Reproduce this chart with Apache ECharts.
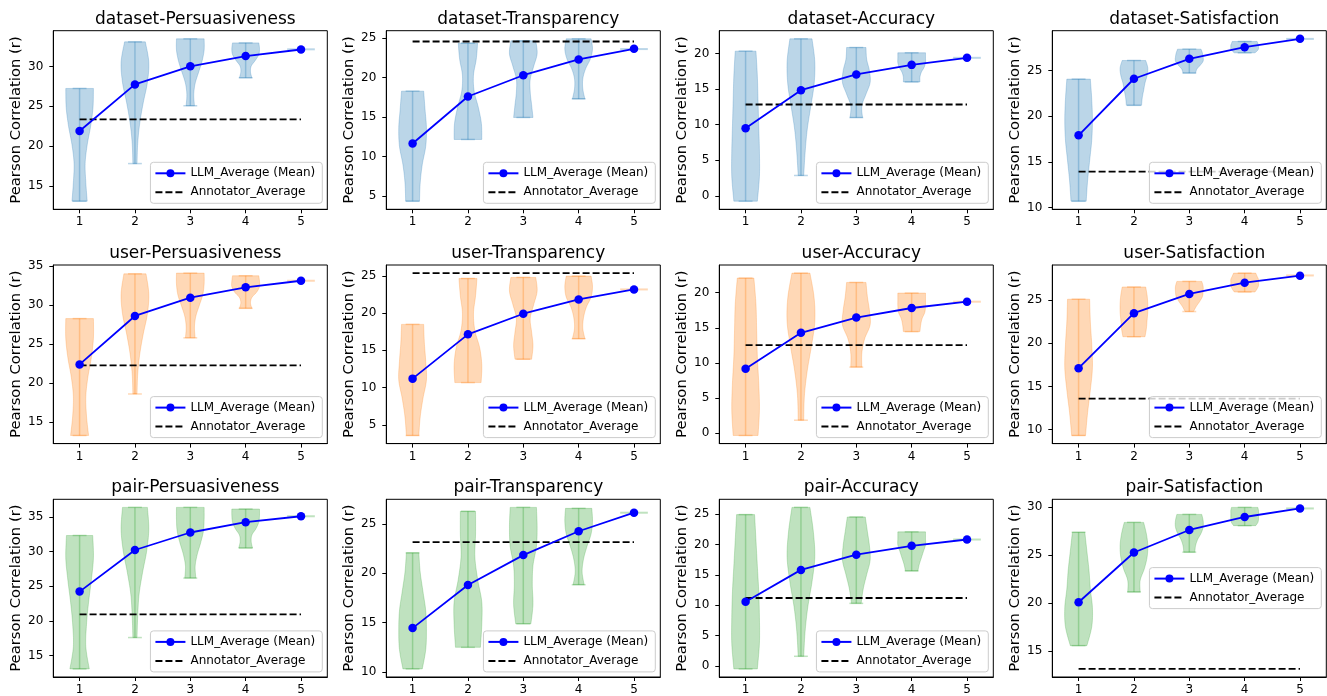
<!DOCTYPE html>
<html>
<head>
<meta charset="utf-8">
<script src="https://cdn.jsdelivr.net/npm/echarts@6/dist/echarts.min.js"></script>
<style>
html,body{margin:0;padding:0;background:#fff;}
#chart{width:1327px;height:696px;}
</style>
</head>
<body>
<div id="chart"></div>
<script>
// ---------------- DATA ----------------
const rowNames = ['dataset', 'user', 'pair'];
const metricNames = ['Persuasiveness', 'Transparency', 'Accuracy', 'Satisfaction'];
const xCategories = [1, 2, 3, 4, 5];
const xTickLabels = ['1', '2', '3', '4', '5'];

// mean LLM correlation per number of LLMs (1..5), one array per metric
const datasetMeans = [
  [21.9, 27.75, 30.02, 31.3, 32.13],
  [11.64, 17.6, 20.3, 22.3, 23.65],
  [9.51, 14.85, 17.05, 18.4, 19.39],
  [17.9, 24.09, 26.27, 27.55, 28.46]
];
const userMeans = [
  [22.37, 28.59, 30.94, 32.26, 33.11],
  [11.2, 17.14, 19.91, 21.83, 23.17],
  [9.15, 14.27, 16.45, 17.82, 18.72],
  [17.12, 23.5, 25.73, 27.04, 27.85]
];
const pairMeans = [
  [24.24, 30.24, 32.76, 34.24, 35.1],
  [14.44, 18.81, 21.84, 24.26, 26.14],
  [10.57, 15.8, 18.3, 19.77, 20.8],
  [20.1, 25.28, 27.62, 28.97, 29.86]
];

// annotator average per metric
const datasetAnnotator = [23.36, 24.58, 12.83, 13.93];
const userAnnotator = [22.24, 25.36, 12.51, 13.58];
const pairAnnotator = [20.95, 23.15, 11.17, 13.17];

// violin extrema (positions 1..5)
const datasetViolinMin = [
  [13.09, 17.81, 25.07, 28.58, 32.15],
  [4.32, 12.15, 14.94, 17.3, 23.62],
  [-0.75, 2.86, 11.0, 16.0, 19.39],
  [10.69, 21.18, 24.71, 26.93, 28.45]
];
const datasetViolinMax = [
  [27.24, 33.09, 33.47, 32.96, 32.15],
  [18.28, 24.37, 24.66, 24.92, 23.62],
  [20.33, 22.06, 20.84, 20.1, 19.39],
  [24.05, 26.09, 27.33, 28.17, 28.45]
];
const userViolinMin = [
  [13.24, 18.57, 25.78, 29.57, 33.11],
  [3.57, 10.67, 13.8, 16.56, 23.17],
  [-0.38, 1.8, 9.38, 14.45, 18.72],
  [9.31, 20.77, 23.69, 25.96, 27.88]
];
const userViolinMax = [
  [28.25, 34.0, 34.09, 33.75, 33.11],
  [18.48, 24.64, 24.78, 24.96, 23.17],
  [22.09, 22.8, 21.47, 19.95, 18.72],
  [25.12, 26.54, 27.19, 28.15, 27.88]
];
const pairViolinMin = [
  [13.1, 17.62, 26.19, 30.52, 35.1],
  [10.3, 12.49, 14.88, 18.84, 26.14],
  [-0.5, 1.58, 10.29, 15.63, 20.8],
  [15.59, 21.17, 25.31, 28.07, 29.86]
];
const pairViolinMax = [
  [32.33, 36.38, 36.38, 36.14, 35.1],
  [22.07, 26.28, 26.68, 26.58, 26.14],
  [24.9, 26.09, 24.51, 22.06, 20.8],
  [27.38, 28.41, 29.24, 29.97, 29.86]
];

// relative violin widths (0..1) at 7 evenly spaced levels from min to max, positions 1..4
const datasetViolinShape = [
  [[0.55,0.45,0.4,0.55,0.8,0.97,1.0],[0.15,0.2,0.35,0.6,0.9,1.0,0.75],[0.3,0.25,0.35,0.6,0.85,1.0,1.0],[0.45,0.35,0.4,0.7,0.95,1.0,0.95]],
  [[0.5,0.55,0.7,0.95,1.0,0.9,0.8],[1.0,0.97,0.75,0.45,0.4,0.6,0.7],[0.7,0.6,0.5,0.5,0.75,1.0,0.9],[0.45,0.3,0.3,0.5,0.85,1.0,0.9]],
  [[0.85,1.0,1.0,0.95,0.9,0.85,0.75],[0.2,0.3,0.45,0.7,0.95,1.0,0.8],[0.45,0.4,0.7,1.0,0.95,0.75,0.7],[0.6,0.6,0.7,0.9,1.0,1.0,1.0]],
  [[0.55,0.65,0.8,0.95,1.0,0.95,0.85],[0.55,0.6,0.7,0.8,0.95,1.0,0.85],[0.45,0.55,0.8,1.0,1.0,0.95,0.85],[0.75,0.9,1.0,1.0,1.0,0.95,0.9]]
];
const userViolinShape = [
  [[0.65,0.5,0.45,0.6,0.85,1.0,1.0],[0.15,0.2,0.35,0.6,0.9,1.0,0.8],[0.35,0.3,0.4,0.65,0.9,1.0,1.0],[0.45,0.35,0.45,0.8,1.0,1.0,0.95]],
  [[0.45,0.55,0.75,1.0,0.95,0.85,0.8],[0.95,1.0,0.85,0.5,0.4,0.55,0.65],[0.6,0.7,0.6,0.5,0.75,1.0,0.9],[0.45,0.3,0.35,0.55,0.9,1.0,0.9]],
  [[0.9,1.0,0.95,0.85,0.8,0.75,0.6],[0.2,0.25,0.45,0.75,1.0,0.95,0.65],[0.4,0.4,0.6,1.0,0.95,0.8,0.7],[0.6,0.65,0.75,0.95,1.0,1.0,1.0]],
  [[0.5,0.65,0.85,1.0,0.95,0.85,0.8],[0.8,0.9,0.95,1.0,1.0,0.95,0.85],[0.3,0.5,0.75,0.95,1.0,1.0,0.9],[0.75,0.9,1.0,1.0,1.0,0.9,0.8]]
];
const pairViolinShape = [
  [[0.7,0.45,0.5,0.65,0.85,1.0,0.95],[0.15,0.2,0.3,0.55,0.85,1.0,0.9],[0.4,0.35,0.5,0.75,0.95,1.0,1.0],[0.5,0.4,0.45,0.75,0.95,1.0,1.0]],
  [[0.7,0.95,1.0,0.95,0.75,0.55,0.45],[0.9,1.0,1.0,0.7,0.5,0.55,0.55],[0.55,0.7,0.65,0.7,0.95,1.0,0.95],[0.4,0.25,0.35,0.6,0.9,1.0,0.95]],
  [[0.85,1.0,1.0,0.95,0.85,0.75,0.65],[0.2,0.3,0.5,0.8,1.0,0.9,0.65],[0.35,0.5,0.75,1.0,0.95,0.8,0.65],[0.45,0.55,0.7,0.85,1.0,1.0,1.0]],
  [[0.6,0.95,1.0,0.85,0.75,0.6,0.45],[0.45,0.45,0.75,0.95,1.0,0.9,0.7],[0.4,0.45,0.6,0.85,1.0,1.0,0.9],[0.8,0.95,1.0,1.0,1.0,1.0,0.95]]
];

// y tick labels per panel
const datasetYTicks = [[15,20,25,30],[5,10,15,20,25],[0,5,10,15,20],[10,15,20,25]];
const userYTicks = [[15,20,25,30,35],[5,10,15,20,25],[0,5,10,15,20],[10,15,20,25]];
const pairYTicks = [[15,20,25,30,35],[10,15,20,25],[0,5,10,15,20,25],[15,20,25,30]];

// ---------------- LAYOUT / STYLE ----------------
const rowColors = ['#1f77b4', '#ff7f0e', '#2ca02c'];
const gridLefts = [53.3, 386.3, 719.3, 1052.3];
const gridTops = [30.7, 265.0, 499.3];
const gridW = 274;
const gridH = 178.6;
const W = 1327, H = 696;
const FONT = 'DejaVu Sans';
const legendCenterRight = { '2-3': true };

const rows = [
  { means: datasetMeans, annot: datasetAnnotator, vmin: datasetViolinMin, vmax: datasetViolinMax, shape: datasetViolinShape, ticks: datasetYTicks },
  { means: userMeans, annot: userAnnotator, vmin: userViolinMin, vmax: userViolinMax, shape: userViolinShape, ticks: userYTicks },
  { means: pairMeans, annot: pairAnnotator, vmin: pairViolinMin, vmax: pairViolinMax, shape: pairViolinShape, ticks: pairYTicks }
];

function rgba(hex, a) {
  const n = parseInt(hex.slice(1), 16);
  return 'rgba(' + ((n >> 16) & 255) + ',' + ((n >> 8) & 255) + ',' + (n & 255) + ',' + a + ')';
}

function smoothSide(pts, steps) {
  const out = [];
  for (let i = 0; i < pts.length - 1; i++) {
    const p0 = pts[Math.max(i - 1, 0)], p1 = pts[i], p2 = pts[i + 1], p3 = pts[Math.min(i + 2, pts.length - 1)];
    for (let s = 0; s < steps; s++) {
      const t = s / steps, t2 = t * t, t3 = t2 * t;
      const f = (a, b, c, d) => 0.5 * (2 * b + (-a + c) * t + (2 * a - 5 * b + 4 * c - d) * t2 + (-a + 3 * b - 3 * c + d) * t3);
      out.push([f(p0[0], p1[0], p2[0], p3[0]), f(p0[1], p1[1], p2[1], p3[1])]);
    }
  }
  out.push(pts[pts.length - 1]);
  return out;
}

function makeViolinRender(color) {
  const fill = rgba(color, 0.3);
  const lineC = rgba(color, 0.3);
  return function (params, api) {
    const pos = api.value(0), lo = api.value(1), hi = api.value(2);
    const children = [];
    if (!(hi - lo > 1e-9)) {
      const a = api.coord([pos - 0.25, lo]), b = api.coord([pos + 0.25, lo]);
      children.push({ type: 'line', shape: { x1: a[0], y1: a[1], x2: b[0], y2: b[1] }, style: { stroke: lineC, lineWidth: 2 } });
      return { type: 'group', children };
    }
    const n = 7;
    const right = [], left = [];
    for (let i = 0; i < n; i++) {
      const y = lo + (hi - lo) * i / (n - 1);
      const hw = api.value(3 + i) * 0.25;
      right.push(api.coord([pos + hw, y]));
      left.push(api.coord([pos - hw, y]));
    }
    const rs = smoothSide(right, 10);
    const ls = smoothSide(left, 10).reverse();
    children.push({ type: 'polygon', shape: { points: rs.concat(ls) }, style: { fill: fill, stroke: fill, lineWidth: 0.8 } });
    const b0 = api.coord([pos, lo]), b1 = api.coord([pos, hi]);
    children.push({ type: 'line', shape: { x1: b0[0], y1: b0[1], x2: b1[0], y2: b1[1] }, style: { stroke: lineC, lineWidth: 1.5 } });
    [lo, hi].forEach(function (v) {
      const c0 = api.coord([pos - 0.125, v]), c1 = api.coord([pos + 0.125, v]);
      children.push({ type: 'line', shape: { x1: c0[0], y1: c0[1], x2: c1[0], y2: c1[1] }, style: { stroke: lineC, lineWidth: 1.5 } });
    });
    return { type: 'group', children };
  };
}

const option = {
  animation: false,
  backgroundColor: '#ffffff',
  textStyle: { fontFamily: FONT },
  title: [], grid: [], xAxis: [], yAxis: [], legend: [], series: []
};

for (let r = 0; r < 3; r++) {
  const row = rows[r];
  for (let c = 0; c < 4; c++) {
    const idx = r * 4 + c;
    const left = gridLefts[c], top = gridTops[r];
    const means = row.means[c], annot = row.annot[c], vmin = row.vmin[c], vmax = row.vmax[c];
    // y-range: data extent with 5% margins (matplotlib autoscale)
    const all = vmin.concat(vmax, means, [annot]);
    const dLo = Math.min.apply(null, all), dHi = Math.max.apply(null, all);
    const pad = (dHi - dLo) * 0.05;
    const xLo = 0.75, xHi = 5.25, xPad = (xHi - xLo) * 0.05;

    option.grid.push({ left: left, top: top, width: gridW, height: gridH, show: true, borderColor: '#000', borderWidth: 1, backgroundColor: 'transparent', containLabel: false });
    option.title.push({
      text: rowNames[r] + '-' + metricNames[c], left: left + gridW / 2, top: top - 25, textAlign: 'center',
      textStyle: { fontSize: 17, fontWeight: 'normal', color: '#000', fontFamily: FONT }
    });
    option.xAxis.push({
      type: 'value', gridIndex: idx, min: xLo - xPad, max: xHi + xPad,
      splitLine: { show: false }, axisLine: { show: true, onZero: false, lineStyle: { color: '#000', width: 1 } },
      axisTick: { show: true, length: 4, lineStyle: { color: '#000', width: 1 }, customValues: xCategories },
      axisLabel: { show: true, customValues: xCategories, margin: 7, fontSize: 12, color: '#000', fontFamily: FONT,
        formatter: function (v) { const i = xCategories.indexOf(v); return i >= 0 ? xTickLabels[i] : ''; } }
    });
    option.yAxis.push({
      type: 'value', gridIndex: idx, min: dLo - pad, max: dHi + pad,
      name: 'Pearson Correlation (r)', nameLocation: 'middle', nameGap: 29,
      nameTextStyle: { fontSize: 14.8, color: '#000', fontFamily: FONT },
      splitLine: { show: false }, axisLine: { show: true, onZero: false, lineStyle: { color: '#000', width: 1 } },
      axisTick: { show: true, length: 4, lineStyle: { color: '#000', width: 1 }, customValues: row.ticks[c] },
      axisLabel: { show: true, customValues: row.ticks[c], margin: 10, fontSize: 12, color: '#000', fontFamily: FONT }
    });

    // violins
    const vData = xCategories.map(function (x, i) {
      const s = row.shape[c][i] || [];
      return [x, vmin[i], vmax[i]].concat(s);
    });
    option.series.push({
      type: 'custom', name: 'violin-' + idx, xAxisIndex: idx, yAxisIndex: idx,
      dimensions: ['x', 'lo', 'hi', 's0', 's1', 's2', 's3', 's4', 's5', 's6'],
      encode: { x: 0, y: [1, 2] }, clip: false, z: 1, silent: true,
      renderItem: makeViolinRender(rowColors[r]), data: vData
    });
    // annotator average
    option.series.push({
      type: 'line', name: 'Annotator_Average', xAxisIndex: idx, yAxisIndex: idx,
      data: [[xCategories[0], annot], [xCategories[xCategories.length - 1], annot]],
      symbol: 'none', z: 2, silent: true,
      lineStyle: { color: '#000', width: 1.8, type: [7, 3] }, itemStyle: { color: '#000' }
    });
    // LLM mean
    option.series.push({
      type: 'line', name: 'LLM_Average (Mean)', xAxisIndex: idx, yAxisIndex: idx,
      data: xCategories.map(function (x, i) { return [x, means[i]]; }),
      symbol: 'circle', symbolSize: 8.5, z: 3, silent: true,
      lineStyle: { color: '#0000ff', width: 1.8 }, itemStyle: { color: '#0000ff' }
    });

    const leg = {
      data: ['LLM_Average (Mean)', { name: 'Annotator_Average', itemStyle: { opacity: 0 } }],
      orient: 'vertical',
      right: W - (left + gridW) + 5,
      itemWidth: 30, itemHeight: 10, itemGap: 5, padding: [4, 7, 4, 4],
      backgroundColor: 'rgba(255,255,255,0.8)', borderColor: '#cccccc', borderWidth: 1, borderRadius: 3,
      textStyle: { fontSize: 12, color: '#000', fontFamily: FONT, lineHeight: 14 },
      selectedMode: false, z: 10
    };
    if (legendCenterRight[r + '-' + c]) {
      leg.top = top + gridH / 2 - 21;
    } else {
      leg.bottom = H - (top + gridH) + 6;
    }
    option.legend.push(leg);
  }
}

const chart = echarts.init(document.getElementById('chart'), null, { renderer: 'canvas', width: W, height: H });
chart.setOption(option);
</script>
</body>
</html>
